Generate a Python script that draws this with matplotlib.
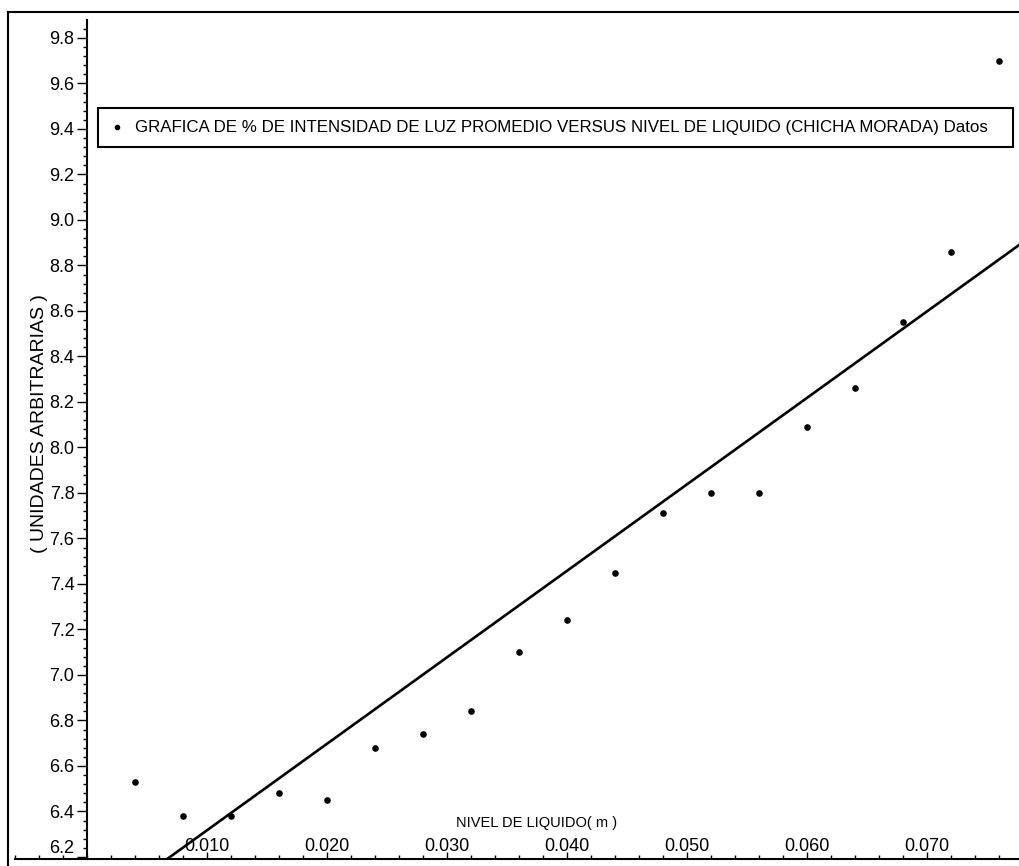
import matplotlib
matplotlib.use("Agg")
import matplotlib.pyplot as plt
from matplotlib.ticker import MultipleLocator, FormatStrFormatter
from matplotlib.patches import Rectangle

# Liquid level (m) and mean light intensity (arbitrary units)
nivel = [0.004, 0.008, 0.012, 0.016, 0.020, 0.024, 0.028, 0.032, 0.036, 0.040,
         0.044, 0.048, 0.052, 0.056, 0.060, 0.064, 0.068, 0.072, 0.076]
intensidad = [6.53, 6.38, 6.38, 6.48, 6.45, 6.68, 6.74, 6.84, 7.10, 7.24,
              7.45, 7.71, 7.80, 7.80, 8.09, 8.26, 8.55, 8.86, 9.70]

# fitted line
fit_slope = 38.0
fit_intercept = 5.937

x_ticks = [0.010, 0.020, 0.030, 0.040, 0.050, 0.060, 0.070]
y_ticks = [6.2, 6.4, 6.6, 6.8, 7.0, 7.2, 7.4, 7.6, 7.8, 8.0, 8.2, 8.4, 8.6,
           8.8, 9.0, 9.2, 9.4, 9.6, 9.8]

leyenda = "GRAFICA DE % DE INTENSIDAD DE LUZ PROMEDIO VERSUS NIVEL DE LIQUIDO (CHICHA MORADA) Datos"

plt.rcParams["font.family"] = ["Liberation Sans", "DejaVu Sans"]

W, H = 1019, 866
fig = plt.figure(figsize=(W / 100, H / 100), dpi=100)

# outer frame of the scanned figure
fig.patches.append(Rectangle((8 / W, -0.05), 1.2, 1 - 12 / H + 0.05,
                             transform=fig.transFigure, fill=False,
                             edgecolor="black", linewidth=1.5))

ax = fig.add_axes([15 / W, 7 / H, 1 - 15 / W, (846 - 7) / H])
xmin, xmax = -0.006, 0.0777
ax.set_xlim(xmin, xmax)
ax.set_ylim(6.191, 9.879)

for s in ["top", "right"]:
    ax.spines[s].set_visible(False)
ax.spines["left"].set_position(("data", 0.0))
ax.spines["left"].set_linewidth(1.5)
ax.spines["bottom"].set_linewidth(1.5)

pts = ax.scatter(nivel, intensidad, s=14, color="black", zorder=3)
ax.plot([xmin, xmax], [fit_intercept + fit_slope * xmin, fit_intercept + fit_slope * xmax],
        color="black", linewidth=1.9)

ax.set_xticks(x_ticks)
ax.xaxis.set_major_formatter(FormatStrFormatter("%.3f"))
ax.xaxis.set_minor_locator(MultipleLocator(0.002))
ax.tick_params(axis="x", which="major", direction="in", length=5, width=1,
               pad=-15, labelsize=13)
ax.tick_params(axis="x", which="minor", direction="in", length=3, width=1)

ax.set_yticks(y_ticks)
ax.yaxis.set_major_formatter(FormatStrFormatter("%.1f"))
ax.yaxis.set_minor_locator(MultipleLocator(0.04))
ax.tick_params(axis="y", which="major", direction="out", length=7, width=1,
               pad=2, labelsize=13)
ax.tick_params(axis="y", which="minor", direction="out", length=3, width=1)
# lowest label sits just above the x axis, as in the original
ax.get_yticklabels()[0].set_va("bottom")

ax.set_xlabel("NIVEL DE LIQUIDO( m )", fontsize=10.5)
ax.xaxis.set_label_coords((537 - 15) / (W - 15), (866 - 823 - 7) / (846 - 7))
ax.xaxis.label.set_va("center")

ax.set_ylabel("( UNIDADES ARBITRARIAS )", fontsize=14)
ax.yaxis.set_label_coords((40 - 15) / (W - 15), (866 - 424 - 7) / (846 - 7))
ax.yaxis.label.set_va("center")

leg = ax.legend([pts], [leyenda], loc="upper left", mode="expand",
                bbox_to_anchor=(98 / W, 1 - 108 / H - 0.01, (1013 - 98) / W, 0.01),
                bbox_transform=fig.transFigure, fontsize=12.2, frameon=True,
                fancybox=False, edgecolor="black", framealpha=1,
                handlelength=0.8, handletextpad=0.7, borderpad=0.7,
                borderaxespad=0, markerscale=0.8)
leg.get_frame().set_linewidth(1.5)

fig.savefig("out.png", dpi=100)
